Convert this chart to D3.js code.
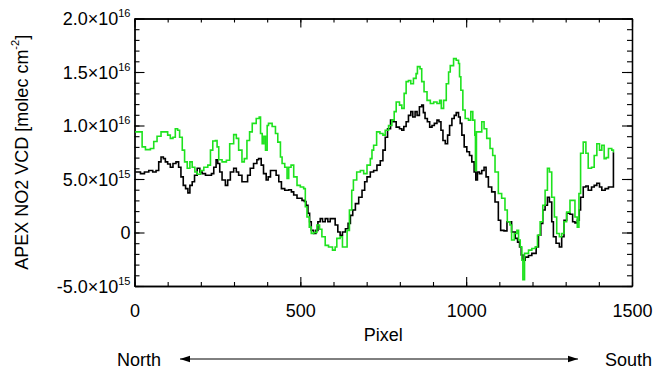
<!DOCTYPE html>
<html>
<head>
<meta charset="utf-8">
<script src="https://cdn.jsdelivr.net/npm/d3@7"></script>
<style>
  html, body { margin: 0; padding: 0; background: #fff; }
  svg { display: block; font-family: "Liberation Sans", Arial, Helvetica, sans-serif; }
</style>
</head>
<body>
<div id="chart"></div>
<script>
// values in units of 1e15 molec cm-2
const greenPixel = [2, 13, 23, 33, 48, 58, 68, 80, 93, 100, 108, 116, 123, 130, 136, 144, 151, 159, 167, 174,
  182, 189, 199, 209, 221, 229, 236, 244, 249, 254, 264, 277, 287, 299, 307, 314, 324, 331, 339, 347,
  355, 367, 376, 380, 385, 390, 395, 400, 404, 415, 425, 432, 440, 445, 453, 460, 465, 472, 480, 490,
  500, 510, 515, 520, 527, 533, 540, 550, 558, 565, 575, 585, 597, 605, 610, 620, 627, 638, 641, 648,
  655, 660, 670, 681, 691, 701, 711, 716, 721, 730, 740, 749, 756, 766, 776, 783, 789, 799, 806, 813,
  819, 826, 833, 841, 849, 853, 861, 866, 873, 882, 892, 902, 912, 920, 925, 932, 940, 947, 952, 962,
  970, 977, 980, 984, 990, 997, 1007, 1014, 1020, 1026, 1028, 1031, 1037, 1047, 1054, 1062, 1072, 1080, 1087, 1097,
  1107, 1117, 1124, 1132, 1137, 1145, 1153, 1158, 1163, 1168, 1171, 1176, 1188, 1198, 1208, 1215, 1223, 1231, 1238, 1245,
  1251, 1258, 1266, 1273, 1281, 1288, 1295, 1303, 1313, 1323, 1328, 1335, 1340, 1345, 1353, 1361, 1368, 1378, 1386, 1394,
  1402, 1409, 1416, 1422, 1429, 1439, 1444];
const greenVcd = [9.4, 9.4, 8.0, 7.75, 7.85, 8.5, 9.0, 9.4, 9.4, 9.1, 8.8, 8.9, 9.7, 9.55, 8.9, 7.7, 6.6, 6.0, 6.6, 6.1,
  5.65, 5.45, 5.8, 6.1, 6.3, 7.7, 8.55, 8.6, 8.0, 6.8, 6.6, 6.75, 8.3, 9.15, 8.8, 7.7, 6.6, 6.9, 8.6, 9.4,
  10.2, 10.65, 10.8, 9.25, 8.3, 9.0, 7.7, 10.0, 10.2, 9.9, 9.25, 8.45, 7.05, 6.45, 6.1, 5.05, 6.1, 6.3, 5.2, 4.4,
  4.25, 4.1, 2.4, 1.45, 0.5, -0.1, 0.0, 0.7, 0.3, -0.4, -1.2, -1.35, -1.65, -1.35, -0.55, -0.4, -1.35, -1.35, 0.2, 2.1,
  3.95, 4.9, 5.65, 5.8, 5.5, 6.3, 6.9, 7.7, 8.15, 9.4, 9.25, 9.1, 9.55, 10.0, 10.5, 11.3, 12.2, 11.9, 11.6, 13.0,
  14.1, 14.2, 13.9, 14.4, 14.85, 15.5, 15.3, 14.1, 13.15, 12.35, 12.05, 12.2, 12.05, 12.35, 11.6, 12.35, 13.9, 15.0, 15.6, 16.25,
  16.1, 15.8, 14.55, 13.3, 11.45, 10.65, 10.5, 11.3, 10.5, 9.1, 5.8, 9.4, 9.4, 10.35, 9.7, 8.8, 7.85, 7.2, 5.65, 3.65,
  3.2, 2.1, 1.0, 0.7, -0.7, -0.1, 0.2, -0.7, -1.35, -2.6, -4.4, -1.95, -1.65, -1.5, -1.35, -0.25, 1.0, 2.55, 3.95, 6.0,
  5.65, 3.3, 1.45, -0.1, -0.4, -0.1, 1.0, 1.9, 3.0, 3.0, 1.45, 0.5, 3.65, 7.4, 8.45, 7.4, 6.0, 6.1, 7.2, 8.3,
  7.7, 8.15, 6.9, 7.0, 7.85, 7.7, 7.5];

const blackPixel = [2, 18, 30, 43, 55, 65, 73, 80, 87, 93, 100, 108, 116, 125, 133, 140, 147, 154, 161, 167,
  174, 181, 189, 197, 204, 214, 224, 232, 239, 246, 251, 257, 264, 274, 281, 289, 299, 307, 314, 324,
  334, 341, 349, 359, 369, 374, 382, 389, 397, 403, 410, 420, 427, 435, 443, 453, 465, 473, 480, 490,
  505, 512, 517, 523, 528, 533, 540, 547, 553, 560, 567, 575, 583, 590, 597, 605, 613, 620, 627, 636,
  644, 651, 658, 666, 676, 686, 694, 701, 711, 721, 731, 741, 749, 756, 763, 772, 779, 789, 799, 806,
  812, 819, 826, 833, 839, 846, 852, 859, 866, 871, 876, 883, 890, 897, 904, 912, 918, 924, 930, 937,
  944, 950, 957, 964, 970, 977, 982, 987, 994, 1002, 1010, 1017, 1024, 1029, 1034, 1040, 1047, 1054, 1060, 1067,
  1077, 1087, 1097, 1104, 1114, 1123, 1130, 1137, 1148, 1155, 1161, 1166, 1171, 1178, 1188, 1198, 1205, 1211, 1218, 1225,
  1231, 1238, 1245, 1251, 1258, 1263, 1271, 1281, 1288, 1295, 1303, 1313, 1321, 1328, 1335, 1341, 1345, 1353, 1361, 1368,
  1378, 1386, 1394, 1402, 1409, 1419, 1429, 1439, 1444];
const blackVcd = [5.65, 5.5, 5.65, 5.8, 5.65, 5.8, 6.6, 7.05, 6.9, 6.6, 6.4, 6.1, 6.45, 6.6, 6.1, 5.2, 4.4, 4.1, 3.7, 4.4,
  4.75, 5.35, 6.0, 5.65, 5.5, 5.35, 5.35, 5.5, 6.1, 6.8, 6.45, 5.65, 4.9, 4.4, 4.9, 5.65, 6.0, 5.65, 5.35, 4.75,
  4.75, 5.35, 6.0, 6.45, 6.8, 6.9, 6.3, 5.5, 4.9, 5.2, 5.8, 5.8, 5.35, 4.75, 4.1, 3.95, 4.0, 3.8, 3.5, 3.2,
  3.0, 2.9, 2.55, 1.8, 1.0, 0.2, -0.1, 0.2, 1.0, 1.3, 1.0, 1.3, 1.0, 1.3, 1.3, 0.7, 0.05, -0.25, 0.05, 0.35,
  0.85, 1.6, 2.1, 2.7, 3.3, 3.95, 4.75, 5.2, 5.65, 5.8, 6.3, 6.7, 7.7, 8.9, 9.7, 10.5, 10.35, 9.85, 9.7, 9.55,
  9.9, 10.35, 10.95, 11.3, 10.8, 11.3, 10.95, 11.75, 11.9, 11.2, 10.65, 10.35, 9.85, 10.0, 10.2, 10.5, 10.35, 9.55, 8.6, 8.3,
  9.1, 10.0, 10.65, 10.95, 11.2, 10.8, 10.2, 9.1, 8.0, 7.55, 7.2, 6.6, 5.65, 4.9, 5.65, 5.5, 5.8, 6.1, 5.2, 4.25,
  3.8, 2.85, 1.15, 0.2, 0.15, 1.0, 1.0, 0.05, -0.55, -0.9, -1.35, -2.1, -2.6, -2.3, -2.15, -1.95, -1.95, -1.35, -0.25, 0.85,
  2.1, 2.55, 3.3, 2.85, 1.0, -0.4, -1.0, -1.35, -0.4, 1.15, 1.8, 1.7, 1.0, 0.9, 1.15, 2.1, 3.3, 4.25, 4.35, 3.95,
  4.25, 4.4, 4.6, 4.25, 3.95, 4.1, 4.25, 4.25, 7.5];

const xTicks = [0, 500, 1000, 1500];
const yTicks = [-5e15, 0, 5e15, 1e16, 1.5e16, 2e16];
const yTickMantissa = ['-5.0', '0', '5.0', '1.0', '1.5', '2.0'];
const yTickExponent = ['15', '', '15', '16', '16', '16'];

const width = 654;
const height = 368;
const marginLeft = 134.5;
const marginRight = 22;
const marginTop = 18.5;
const marginBottom = 82;

const svg = d3.select('#chart')
  .append('svg')
  .attr('width', width)
  .attr('height', height)
  .attr('viewBox', `0 0 ${width} ${height}`);

const x = d3.scaleLinear()
  .domain([0, 1500])
  .range([marginLeft, width - marginRight]);

const y = d3.scaleLinear()
  .domain([-5e15, 2e16])
  .range([height - marginBottom, marginTop]);

const xMinor = d3.range(0, 1501, 100);
const yMinor = d3.range(-5, 20.5, 1).map(d => d * 1e15);

const styleAxis = g => {
  g.select('.domain').attr('stroke', '#000').attr('stroke-width', 1.3);
  g.selectAll('.tick line').attr('stroke', '#000').attr('stroke-width', 1.1);
  g.selectAll('.tick text').attr('fill', '#000');
};

// minor ticks first, on all four sides
svg.append('g')
  .attr('transform', `translate(0,${y.range()[0]})`)
  .call(d3.axisBottom(x).tickValues(xMinor).tickSize(-4).tickSizeOuter(0).tickFormat(''))
  .call(styleAxis);
svg.append('g')
  .attr('transform', `translate(0,${y.range()[1]})`)
  .call(d3.axisTop(x).tickValues(xMinor).tickSize(-4).tickSizeOuter(0).tickFormat(''))
  .call(styleAxis);
svg.append('g')
  .attr('transform', `translate(${x.range()[0]},0)`)
  .call(d3.axisLeft(y).tickValues(yMinor).tickSize(-5).tickSizeOuter(0).tickFormat(''))
  .call(styleAxis);
svg.append('g')
  .attr('transform', `translate(${x.range()[1]},0)`)
  .call(d3.axisRight(y).tickValues(yMinor).tickSize(-5).tickSizeOuter(0).tickFormat(''))
  .call(styleAxis);

// major ticks
svg.append('g')
  .attr('transform', `translate(0,${y.range()[0]})`)
  .call(d3.axisBottom(x).tickValues(xTicks).tickSize(-9).tickSizeOuter(0).tickPadding(18).tickFormat(d3.format('d')))
  .call(styleAxis)
  .call(g => g.selectAll('.tick text').attr('font-size', 18).attr('font-family', null));
svg.append('g')
  .attr('transform', `translate(0,${y.range()[1]})`)
  .call(d3.axisTop(x).tickValues(xTicks).tickSize(-9).tickSizeOuter(0).tickFormat(''))
  .call(styleAxis);
svg.append('g')
  .attr('transform', `translate(${x.range()[1]},0)`)
  .call(d3.axisRight(y).tickValues(yTicks).tickSize(-10).tickSizeOuter(0).tickFormat(''))
  .call(styleAxis);
svg.append('g')
  .attr('transform', `translate(${x.range()[0]},0)`)
  .call(d3.axisLeft(y).tickValues(yTicks).tickSize(-10).tickSizeOuter(0).tickPadding(4))
  .call(styleAxis)
  .call(g => g.selectAll('.tick text')
    .attr('font-size', 18)
    .attr('font-family', null)
    .attr('dy', '0.36em')
    .text(null)
    .each(function(d, i) {
      const t = d3.select(this);
      if (!yTickExponent[i]) {
        t.text(yTickMantissa[i]);
        return;
      }
      t.append('tspan').text(yTickMantissa[i] + '\u00d710');
      t.append('tspan').attr('font-size', 11).attr('dy', '-0.75em').text(yTickExponent[i]);
    }));

// data lines
const line = d3.line()
  .curve(d3.curveStepAfter)
  .x(d => x(d[0]))
  .y(d => y(d[1] * 1e15));

const series = [
  { name: 'black', color: '#000000', points: d3.zip(blackPixel, blackVcd) },
  { name: 'green', color: '#1ee21e', points: d3.zip(greenPixel, greenVcd) }
];

svg.append('g')
  .attr('fill', 'none')
  .attr('stroke-width', 1.6)
  .attr('stroke-linejoin', 'miter')
  .selectAll('path')
  .data(series)
  .enter().append('path')
  .attr('stroke', d => d.color)
  .attr('d', d => line(d.points));

// axis titles
svg.append('text')
  .attr('x', (x.range()[0] + x.range()[1]) / 2)
  .attr('y', 341)
  .attr('text-anchor', 'middle')
  .attr('font-size', 18)
  .text('Pixel');

const yTitle = svg.append('text')
  .attr('transform', `translate(28,${(y.range()[0] + y.range()[1]) / 2}) rotate(-90)`)
  .attr('text-anchor', 'middle')
  .attr('font-size', 18);
yTitle.append('tspan').text('APEX NO2 VCD [molec cm');
yTitle.append('tspan').attr('font-size', 11).attr('dy', '-0.8em').text('-2');
yTitle.append('tspan').attr('dy', '0.49em').text(']');

// North / South arrow
const defs = svg.append('defs');
defs.append('marker')
  .attr('id', 'arrow')
  .attr('viewBox', '0 0 10 8')
  .attr('refX', 10)
  .attr('refY', 4)
  .attr('markerWidth', 11)
  .attr('markerHeight', 8)
  .attr('markerUnits', 'userSpaceOnUse')
  .attr('orient', 'auto-start-reverse')
  .append('path')
  .attr('d', 'M0,0.8 L10,4 L0,7.2 Z')
  .attr('fill', '#000');

svg.append('line')
  .attr('x1', 180)
  .attr('x2', 578)
  .attr('y1', 359)
  .attr('y2', 359)
  .attr('stroke', '#000')
  .attr('stroke-width', 1)
  .attr('marker-start', 'url(#arrow)')
  .attr('marker-end', 'url(#arrow)');

svg.append('text')
  .attr('x', 117)
  .attr('y', 365.5)
  .attr('font-size', 18)
  .text('North');

svg.append('text')
  .attr('x', 652)
  .attr('y', 365.5)
  .attr('text-anchor', 'end')
  .attr('font-size', 18)
  .text('South');
</script>
</body>
</html>
